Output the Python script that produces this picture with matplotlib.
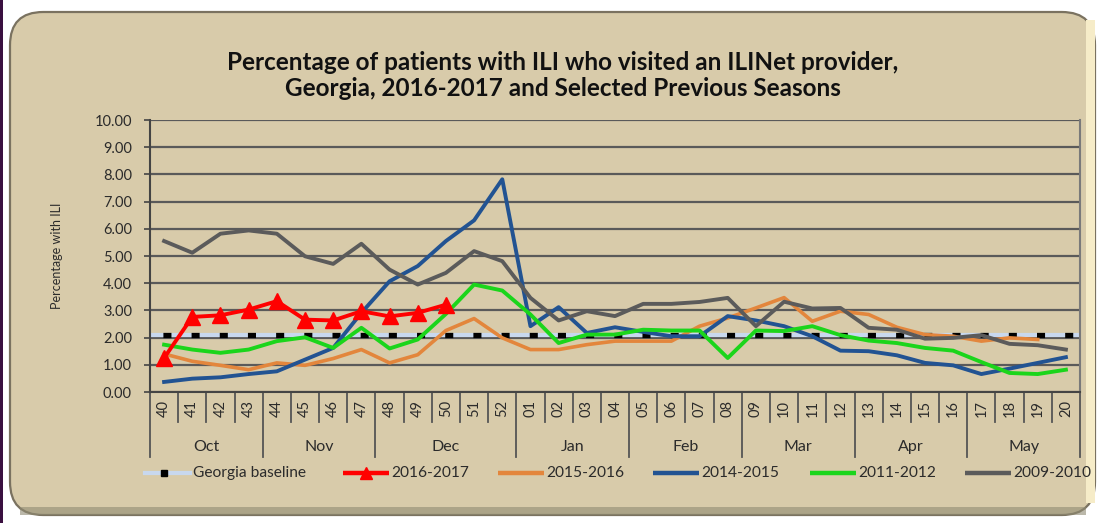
import matplotlib
matplotlib.use("Agg")
import matplotlib.pyplot as plt
from matplotlib.patches import FancyBboxPatch, Rectangle
from matplotlib.lines import Line2D
import matplotlib.transforms as mtransforms

plt.rcParams['font.family'] = ['Lato', 'DejaVu Sans']
plt.rcParams['lines.scale_dashes'] = False

weeks = ["40", "41", "42", "43", "44", "45", "46", "47", "48", "49", "50", "51", "52",
         "01", "02", "03", "04", "05", "06", "07", "08", "09", "10", "11", "12",
         "13", "14", "15", "16", "17", "18", "19", "20"]
months = ["Oct", "Nov", "Dec", "Jan", "Feb", "Mar", "Apr", "May"]
month_sizes = [4, 4, 5, 4, 4, 4, 4, 4]

baseline = 2.11
s2016_2017 = [1.25, 2.76, 2.82, 3.03, 3.34, 2.66, 2.63, 2.97, 2.78, 2.91, 3.21]
s2015_2016 = [1.40, 1.13, 0.98, 0.82, 1.07, 0.98, 1.23, 1.56, 1.07, 1.37, 2.26, 2.70, 1.99,
              1.56, 1.56, 1.74, 1.87, 1.87, 1.87, 2.42, 2.72, 3.09, 3.47, 2.60, 2.97,
              2.85, 2.38, 2.11, 2.05, 1.87, 1.99, 1.93]
s2014_2015 = [0.37, 0.49, 0.54, 0.66, 0.76, 1.19, 1.62, 2.91, 4.07, 4.63, 5.55, 6.31, 7.82,
              2.42, 3.12, 2.17, 2.38, 2.21, 2.05, 2.05, 2.79, 2.63, 2.42, 2.05, 1.52,
              1.50, 1.35, 1.07, 0.98, 0.66, 0.86, 1.07, 1.28]
s2011_2012 = [1.74, 1.56, 1.44, 1.56, 1.87, 2.01, 1.62, 2.36, 1.60, 1.93, 2.87, 3.95, 3.73,
              2.85, 1.80, 2.11, 2.11, 2.29, 2.26, 2.26, 1.25, 2.26, 2.24, 2.42, 2.09,
              1.89, 1.80, 1.62, 1.52, 1.10, 0.70, 0.66, 0.82]
s2009_2010 = [5.55, 5.12, 5.82, 5.94, 5.82, 4.99, 4.71, 5.45, 4.50, 3.95, 4.38, 5.18, 4.81,
              3.46, 2.63, 2.97, 2.79, 3.24, 3.24, 3.31, 3.46, 2.42, 3.32, 3.07, 3.09,
              2.36, 2.29, 1.96, 1.99, 2.09, 1.77, 1.72, 1.56]

C_BASE = '#C8D8EE'
C_RED = '#FF0000'
C_ORANGE = '#E3863C'
C_BLUE = '#225392'
C_GREEN = '#1BD51B'
C_GRAY = '#5b5b5b'

TAN = '#D8CBAA'
TXT = '#2b2b2b'
W, H = 1107, 523
fig = plt.figure(figsize=(W / 100, H / 100), dpi=100, facecolor='white')


def bg(p):
    p.set_zorder(-5)
    fig.patches.append(p)


bg(Rectangle((0, 0), 3 / W, 1, transform=fig.transFigure,
             facecolor='#3a1040', edgecolor='none'))
bg(FancyBboxPatch((10 / W, 8 / H), 1085 / W, (H - 20) / H,
                  boxstyle="round,pad=0,rounding_size=0.03",
                  transform=fig.transFigure, facecolor=TAN,
                  edgecolor='#7a7260', linewidth=1.6, mutation_aspect=W / H))
bg(Rectangle((1086 / W, 20 / H), 9 / W, (H - 40) / H, transform=fig.transFigure,
             facecolor='#F6ECC8', edgecolor='none'))
bg(Rectangle((20 / W, 8 / H), 1066 / W, 8 / H, transform=fig.transFigure,
             facecolor='#8f8a72', edgecolor='none', alpha=0.6))

ax = fig.add_axes([150 / W, 1 - 392 / H, 930 / W, 272 / H])
ax.set_facecolor('none')
n = len(weeks)
x = list(range(n))

ax.set_xlim(-0.5, n - 0.5)
ax.set_ylim(0, 10)
ax.set_yticks(range(0, 11))
ax.set_yticklabels([f"{v:.2f}" for v in range(0, 11)], fontsize=10.5, color=TXT)
ax.tick_params(axis='y', length=4, width=1.2, color='#444444', pad=9)
ax.yaxis.grid(True, color='#5a5a5a', linewidth=1.6)
ax.set_axisbelow(True)
ax.set_xticks(x)
ax.set_xticklabels(weeks, rotation=90, fontsize=10.5, color=TXT)
ax.tick_params(axis='x', length=0, pad=6)
ax.spines['top'].set_visible(False)
ax.spines['left'].set_color('#444444')
ax.spines['left'].set_linewidth(1.5)
ax.spines['right'].set_color('#7a7a7a')
ax.spines['right'].set_linewidth(1.5)
ax.spines['bottom'].set_color('#444444')
ax.spines['bottom'].set_linewidth(1.5)
ax.set_ylabel("Percentage with ILI", fontsize=9, color=TXT)
ax.yaxis.set_label_coords(-(150 - 63) / 930, 0.5)

# baseline
ax.axhline(baseline, color=C_BASE, linewidth=3, zorder=2)
ax.axhline(baseline, color='black', linewidth=3.8, linestyle=(11.0, (5.8, 14.49)),
           zorder=2.1, dash_capstyle='butt')

ax.plot(x[:len(s2015_2016)], s2015_2016, color=C_ORANGE, linewidth=2.6, zorder=3)
ax.plot(x, s2014_2015, color=C_BLUE, linewidth=2.8, zorder=4)
ax.plot(x, s2011_2012, color=C_GREEN, linewidth=2.8, zorder=5)
ax.plot(x, s2009_2010, color=C_GRAY, linewidth=2.8, zorder=6)
ax.plot(x[:len(s2016_2017)], s2016_2017, color=C_RED, linewidth=2.8, marker='^',
        markersize=11, zorder=7)

# category separators
trans = mtransforms.blended_transform_factory(ax.transData, ax.transAxes)
week_depth = -(422 - 392) / 272
month_depth = -(457 - 392) / 272
bounds = [-0.5]
for sz in month_sizes:
    bounds.append(bounds[-1] + sz)
for i in range(n + 1):
    xb = i - 0.5
    depth = month_depth if xb in bounds else week_depth
    ax.plot([xb, xb], [0, depth], transform=trans, color='#555555', linewidth=1.3,
            clip_on=False)
for m, a, b in zip(months, bounds[:-1], bounds[1:]):
    ax.text((a + b) / 2, -(447 - 392) / 272, m, transform=trans, ha='center',
            va='center', fontsize=11.5, color=TXT)

# title
fig.text(563 / W, 1 - 62 / H, "Percentage of patients with ILI who visited an ILINet provider,",
         ha='center', va='center', fontsize=17.5, fontweight='bold', color='#111111')
fig.text(563 / W, 1 - 89 / H, "Georgia, 2016-2017 and Selected Previous Seasons",
         ha='center', va='center', fontsize=17.5, fontweight='bold', color='#111111')

# legend (manual placement)
LY = 1 - 473 / H
labels = ["Georgia baseline", "2016-2017", "2015-2016", "2014-2015", "2011-2012", "2009-2010"]
colors = [C_BASE, C_RED, C_ORANGE, C_BLUE, C_GREEN, C_GRAY]
starts = [145, 343, 498, 653, 810, 965]
for lab, col, s in zip(labels, colors, starts):
    if lab == "Georgia baseline":
        fig.add_artist(Line2D([s / W, (s + 14) / W], [LY, LY], transform=fig.transFigure,
                              color=C_BASE, linewidth=3))
        fig.add_artist(Line2D([(s + 24) / W, (s + 45) / W], [LY, LY], transform=fig.transFigure,
                              color=C_BASE, linewidth=3))
        fig.add_artist(Line2D([(s + 19) / W], [LY], transform=fig.transFigure,
                              color='black', marker='s', markersize=4.5, linestyle='none'))
    else:
        fig.add_artist(Line2D([s / W, (s + 46) / W], [LY, LY], transform=fig.transFigure,
                              color=col, linewidth=3.2, solid_capstyle='butt'))
        if lab == "2016-2017":
            fig.add_artist(Line2D([(s + 23) / W], [LY], transform=fig.transFigure,
                                  color=C_RED, marker='^', markersize=8, linestyle='none'))
    fig.text((s + 48) / W, LY, lab, ha='left', va='center', fontsize=11.2, color=TXT)

fig.savefig("out.png", dpi=100, facecolor='white')
